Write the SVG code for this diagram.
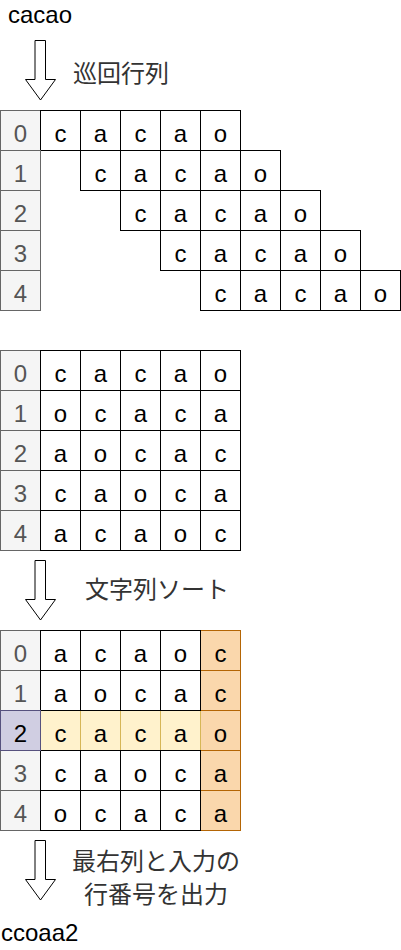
<svg xmlns="http://www.w3.org/2000/svg" width="401" height="950" viewBox="0 0 401 950">
<style>
text{font-family:"Liberation Sans","Noto Sans CJK JP",sans-serif;}
.c{fill:#fff;stroke:#000;stroke-width:1;}
.i{fill:#f5f5f5;stroke:#666;stroke-width:1;}
.p{fill:#d0cee2;stroke:#56517e;stroke-width:1;}
.y{fill:#fff2cc;stroke:#d6b656;stroke-width:1;}
.o{fill:#fad7ac;stroke:#b46504;stroke-width:1;}
.t{font-size:24px;fill:#000;text-anchor:middle;}
.n{font-size:24px;fill:#555;text-anchor:middle;}
.l{font-size:24px;fill:#000;}
.j{font-size:24px;fill:#333;}
.arrow{fill:#fff;stroke:#000;stroke-width:1;}
</style>
<g id="label-input"><text class="l" x="8" y="23">cacao</text></g>
<g id="label-output"><text class="l" x="1" y="941">ccoaa2</text></g>
<g id="label-rotate"><text class="j" x="73" y="82">巡回行列</text></g>
<g id="label-sort"><text class="j" x="85" y="598">文字列ソート</text></g>
<g id="label-out"><text class="j" x="156" y="870" text-anchor="middle">最右列と入力の</text><text class="j" x="156" y="903" text-anchor="middle">行番号を出力</text></g>
<g id="connectors">
<path class="arrow" d="M35,40.5 H45.5 V79.5 H55.5 L40.5,100 L25.5,79.5 H35 Z"/>
<path class="arrow" d="M35,560.5 H45.5 V599.5 H55.5 L40.5,620 L25.5,599.5 H35 Z"/>
<path class="arrow" d="M35,840.5 H45.5 V879.5 H55.5 L40.5,900 L25.5,879.5 H35 Z"/>
</g>
<g id="grid1" transform="translate(0.5,0.5)">
<g id="g1-r0"><rect class="i" x="0" y="110" width="40" height="40"/><text class="n" x="20" y="141">0</text>
<rect class="c" x="40" y="110" width="40" height="40"/><text class="t" x="60" y="141">c</text>
<rect class="c" x="80" y="110" width="40" height="40"/><text class="t" x="100" y="141">a</text>
<rect class="c" x="120" y="110" width="40" height="40"/><text class="t" x="140" y="141">c</text>
<rect class="c" x="160" y="110" width="40" height="40"/><text class="t" x="180" y="141">a</text>
<rect class="c" x="200" y="110" width="40" height="40"/><text class="t" x="220" y="141">o</text></g>
<g id="g1-r1"><rect class="i" x="0" y="150" width="40" height="40"/><text class="n" x="20" y="181">1</text>
<rect class="c" x="80" y="150" width="40" height="40"/><text class="t" x="100" y="181">c</text>
<rect class="c" x="120" y="150" width="40" height="40"/><text class="t" x="140" y="181">a</text>
<rect class="c" x="160" y="150" width="40" height="40"/><text class="t" x="180" y="181">c</text>
<rect class="c" x="200" y="150" width="40" height="40"/><text class="t" x="220" y="181">a</text>
<rect class="c" x="240" y="150" width="40" height="40"/><text class="t" x="260" y="181">o</text></g>
<g id="g1-r2"><rect class="i" x="0" y="190" width="40" height="40"/><text class="n" x="20" y="221">2</text>
<rect class="c" x="120" y="190" width="40" height="40"/><text class="t" x="140" y="221">c</text>
<rect class="c" x="160" y="190" width="40" height="40"/><text class="t" x="180" y="221">a</text>
<rect class="c" x="200" y="190" width="40" height="40"/><text class="t" x="220" y="221">c</text>
<rect class="c" x="240" y="190" width="40" height="40"/><text class="t" x="260" y="221">a</text>
<rect class="c" x="280" y="190" width="40" height="40"/><text class="t" x="300" y="221">o</text></g>
<g id="g1-r3"><rect class="i" x="0" y="230" width="40" height="40"/><text class="n" x="20" y="261">3</text>
<rect class="c" x="160" y="230" width="40" height="40"/><text class="t" x="180" y="261">c</text>
<rect class="c" x="200" y="230" width="40" height="40"/><text class="t" x="220" y="261">a</text>
<rect class="c" x="240" y="230" width="40" height="40"/><text class="t" x="260" y="261">c</text>
<rect class="c" x="280" y="230" width="40" height="40"/><text class="t" x="300" y="261">a</text>
<rect class="c" x="320" y="230" width="40" height="40"/><text class="t" x="340" y="261">o</text></g>
<g id="g1-r4"><rect class="i" x="0" y="270" width="40" height="40"/><text class="n" x="20" y="301">4</text>
<rect class="c" x="200" y="270" width="40" height="40"/><text class="t" x="220" y="301">c</text>
<rect class="c" x="240" y="270" width="40" height="40"/><text class="t" x="260" y="301">a</text>
<rect class="c" x="280" y="270" width="40" height="40"/><text class="t" x="300" y="301">c</text>
<rect class="c" x="320" y="270" width="40" height="40"/><text class="t" x="340" y="301">a</text>
<rect class="c" x="360" y="270" width="40" height="40"/><text class="t" x="380" y="301">o</text></g>
</g>
<g id="grid2" transform="translate(0.5,0.5)">
<g id="g2-r0"><rect class="i" x="0" y="350" width="40" height="40"/><text class="n" x="20" y="381">0</text>
<rect class="c" x="40" y="350" width="40" height="40"/><text class="t" x="60" y="381">c</text>
<rect class="c" x="80" y="350" width="40" height="40"/><text class="t" x="100" y="381">a</text>
<rect class="c" x="120" y="350" width="40" height="40"/><text class="t" x="140" y="381">c</text>
<rect class="c" x="160" y="350" width="40" height="40"/><text class="t" x="180" y="381">a</text>
<rect class="c" x="200" y="350" width="40" height="40"/><text class="t" x="220" y="381">o</text></g>
<g id="g2-r1"><rect class="i" x="0" y="390" width="40" height="40"/><text class="n" x="20" y="421">1</text>
<rect class="c" x="40" y="390" width="40" height="40"/><text class="t" x="60" y="421">o</text>
<rect class="c" x="80" y="390" width="40" height="40"/><text class="t" x="100" y="421">c</text>
<rect class="c" x="120" y="390" width="40" height="40"/><text class="t" x="140" y="421">a</text>
<rect class="c" x="160" y="390" width="40" height="40"/><text class="t" x="180" y="421">c</text>
<rect class="c" x="200" y="390" width="40" height="40"/><text class="t" x="220" y="421">a</text></g>
<g id="g2-r2"><rect class="i" x="0" y="430" width="40" height="40"/><text class="n" x="20" y="461">2</text>
<rect class="c" x="40" y="430" width="40" height="40"/><text class="t" x="60" y="461">a</text>
<rect class="c" x="80" y="430" width="40" height="40"/><text class="t" x="100" y="461">o</text>
<rect class="c" x="120" y="430" width="40" height="40"/><text class="t" x="140" y="461">c</text>
<rect class="c" x="160" y="430" width="40" height="40"/><text class="t" x="180" y="461">a</text>
<rect class="c" x="200" y="430" width="40" height="40"/><text class="t" x="220" y="461">c</text></g>
<g id="g2-r3"><rect class="i" x="0" y="470" width="40" height="40"/><text class="n" x="20" y="501">3</text>
<rect class="c" x="40" y="470" width="40" height="40"/><text class="t" x="60" y="501">c</text>
<rect class="c" x="80" y="470" width="40" height="40"/><text class="t" x="100" y="501">a</text>
<rect class="c" x="120" y="470" width="40" height="40"/><text class="t" x="140" y="501">o</text>
<rect class="c" x="160" y="470" width="40" height="40"/><text class="t" x="180" y="501">c</text>
<rect class="c" x="200" y="470" width="40" height="40"/><text class="t" x="220" y="501">a</text></g>
<g id="g2-r4"><rect class="i" x="0" y="510" width="40" height="40"/><text class="n" x="20" y="541">4</text>
<rect class="c" x="40" y="510" width="40" height="40"/><text class="t" x="60" y="541">a</text>
<rect class="c" x="80" y="510" width="40" height="40"/><text class="t" x="100" y="541">c</text>
<rect class="c" x="120" y="510" width="40" height="40"/><text class="t" x="140" y="541">a</text>
<rect class="c" x="160" y="510" width="40" height="40"/><text class="t" x="180" y="541">o</text>
<rect class="c" x="200" y="510" width="40" height="40"/><text class="t" x="220" y="541">c</text></g>
</g>
<g id="grid3" transform="translate(0.5,0.5)">
<g id="g3-last-col">
<rect class="o" x="200" y="630" width="40" height="40"/>
<rect class="o" x="200" y="670" width="40" height="40"/>
<rect class="o" x="200" y="710" width="40" height="40"/>
<rect class="o" x="200" y="750" width="40" height="40"/>
<rect class="o" x="200" y="790" width="40" height="40"/>
</g>
<g id="g3-r2"><rect class="y" x="40" y="710" width="40" height="40"/><rect class="y" x="80" y="710" width="40" height="40"/><rect class="y" x="120" y="710" width="40" height="40"/><rect class="y" x="160" y="710" width="40" height="40"/></g>
<g id="g3-r0"><rect class="i" x="0" y="630" width="40" height="40"/>
<rect class="c" x="40" y="630" width="40" height="40"/><rect class="c" x="80" y="630" width="40" height="40"/><rect class="c" x="120" y="630" width="40" height="40"/><rect class="c" x="160" y="630" width="40" height="40"/></g>
<g id="g3-r1"><rect class="i" x="0" y="670" width="40" height="40"/>
<rect class="c" x="40" y="670" width="40" height="40"/><rect class="c" x="80" y="670" width="40" height="40"/><rect class="c" x="120" y="670" width="40" height="40"/><rect class="c" x="160" y="670" width="40" height="40"/></g>
<g id="g3-r3"><rect class="i" x="0" y="750" width="40" height="40"/>
<rect class="c" x="40" y="750" width="40" height="40"/><rect class="c" x="80" y="750" width="40" height="40"/><rect class="c" x="120" y="750" width="40" height="40"/><rect class="c" x="160" y="750" width="40" height="40"/></g>
<g id="g3-r4"><rect class="i" x="0" y="790" width="40" height="40"/>
<rect class="c" x="40" y="790" width="40" height="40"/><rect class="c" x="80" y="790" width="40" height="40"/><rect class="c" x="120" y="790" width="40" height="40"/><rect class="c" x="160" y="790" width="40" height="40"/></g>
<g id="g3-idx2"><rect class="p" x="0" y="710" width="40" height="40"/></g>
<g id="g3-text">
<text class="n" x="20" y="661">0</text><text class="t" x="60" y="661">a</text><text class="t" x="100" y="661">c</text><text class="t" x="140" y="661">a</text><text class="t" x="180" y="661">o</text><text class="t" x="220" y="661">c</text>
<text class="n" x="20" y="701">1</text><text class="t" x="60" y="701">a</text><text class="t" x="100" y="701">o</text><text class="t" x="140" y="701">c</text><text class="t" x="180" y="701">a</text><text class="t" x="220" y="701">c</text>
<text class="t" x="20" y="741">2</text><text class="t" x="60" y="741">c</text><text class="t" x="100" y="741">a</text><text class="t" x="140" y="741">c</text><text class="t" x="180" y="741">a</text><text class="t" x="220" y="741">o</text>
<text class="n" x="20" y="781">3</text><text class="t" x="60" y="781">c</text><text class="t" x="100" y="781">a</text><text class="t" x="140" y="781">o</text><text class="t" x="180" y="781">c</text><text class="t" x="220" y="781">a</text>
<text class="n" x="20" y="821">4</text><text class="t" x="60" y="821">o</text><text class="t" x="100" y="821">c</text><text class="t" x="140" y="821">a</text><text class="t" x="180" y="821">c</text><text class="t" x="220" y="821">a</text>
</g>
</g>
</svg>
